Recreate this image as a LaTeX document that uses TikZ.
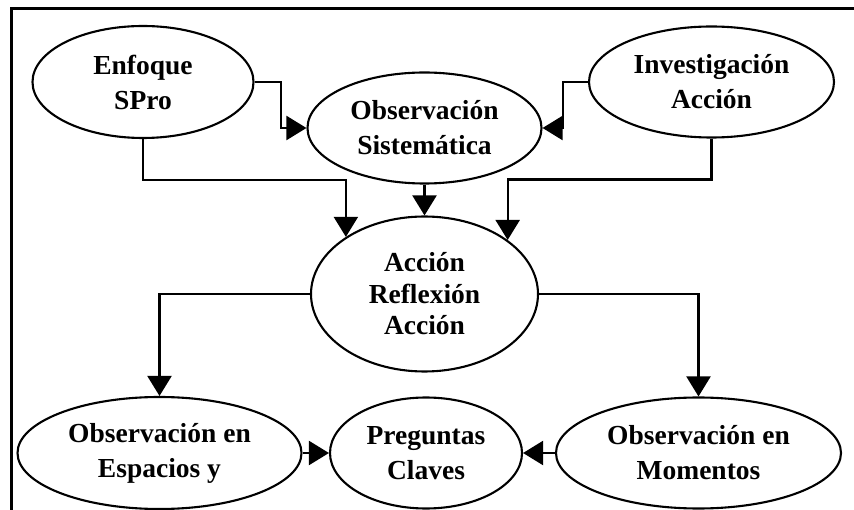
\documentclass[tikz,border=0pt]{standalone}
\usepackage{fontspec}
\setmainfont{Liberation Serif}
\usetikzlibrary{shapes.geometric,arrows.meta}
\begin{document}
\begin{tikzpicture}[x=1pt,y=-1pt,
  oval/.style={ellipse,draw,line width=2.1pt,inner sep=0pt,align=center,
    font=\bfseries\fontsize{27.5}{35}\selectfont},
  arr/.style={line width=2.1pt,-{Triangle[length=20pt,width=24pt]}}]
\useasboundingbox (0,0) rectangle (854,510);
\draw[line width=3pt] (854,8.3) -| (11.3,510);
\node[oval,minimum width=221pt,minimum height=112pt] (enf) at (143,82) {Enfoque\\SPro};
\node[oval,minimum width=234pt,minimum height=111pt] (obs) at (424.5,128) {Observación\\Sistemática};
\node[oval,minimum width=245pt,minimum height=111pt] (inv) at (711.5,82) {Investigación\\Acción};
\node[oval,minimum width=227pt,minimum height=155pt,
  font=\bfseries\fontsize{27.5}{31.5}\selectfont] (acc) at (424.5,294) {Acción\\Reflexión\\Acción};
\node[oval,minimum width=284pt,minimum height=112pt] (esp) at (159.5,453) {Observación en\\Espacios y};
\node[oval,minimum width=192pt,minimum height=111pt] (pre) at (426,453) {Preguntas\\Claves};
\node[oval,minimum width=285pt,minimum height=111pt] (mom) at (698.5,453) {Observación en\\Momentos};
\draw[arr] (enf.east) -- ++(26.5,0) |- (obs.west);
\draw[arr] (inv.west) -- ++(-25,0) |- (obs.east);
\draw[arr] (obs.south) -- (acc.north);
\draw[arr] (enf.south) -- ++(0,41) -| (acc.144.9);
\draw[arr] (inv.south) -- ++(0,41) -| (acc.33.8);
\draw[arr] (acc.west) -| (esp.north);
\draw[arr] (acc.east) -| (mom.north);
\draw[arr] (esp.east) -- (pre.west);
\draw[arr] (mom.west) -- (pre.east);
\end{tikzpicture}
\end{document}
